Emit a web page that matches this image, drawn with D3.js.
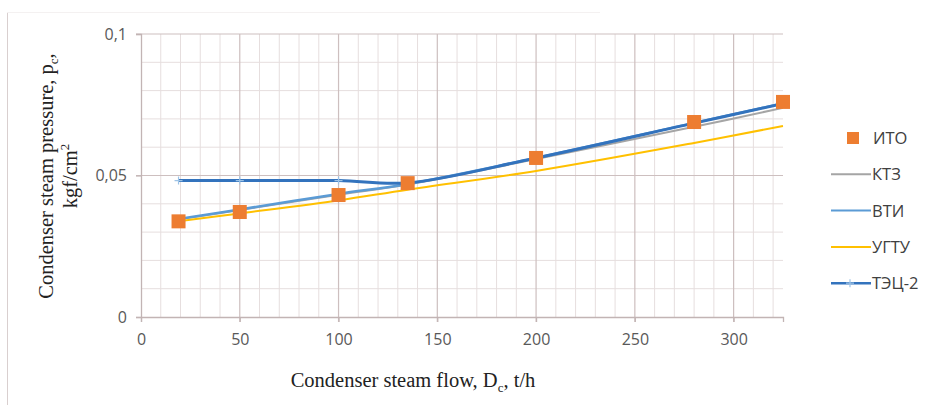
<!DOCTYPE html>
<html>
<head>
<meta charset="utf-8">
<script src="https://cdn.jsdelivr.net/npm/d3@7"></script>
<style>
  body { margin: 0; background: #fff; }
  svg { display: block; }
</style>
</head>
<body>
<div class="d3-container"></div>
<script>
// flow values, t/h
var flow = [19, 50, 100, 135, 200, 280, 325];

// condenser pressure, kgf/cm2
var ito  = [0.0338, 0.0371, 0.0431, 0.0473, 0.0562, 0.0689, 0.0760];
var ktz  = [0.0345, 0.0378, 0.0432, 0.0468, 0.0558, 0.0672, 0.0739];
var vti  = [0.0346, 0.0380, 0.0435, 0.0470, 0.0562, 0.0686, 0.0755];
var ugtu = [0.0338, 0.0366, 0.0412, 0.0450, 0.0516, 0.0615, 0.0675];
var tec2 = [0.0482, 0.0482, 0.0482, 0.0474, 0.0562, 0.0685, 0.0754];

var xTicks = [0, 50, 100, 150, 200, 250, 300];
var yTicks = [0, 0.05, 0.1];

var lineSeries = [
  {name: "КТЗ", values: ktz, color: "#a5a5a5", width: 2},
  {name: "ВТИ", values: vti, color: "#5b9bd5", width: 2.5},
  {name: "УГТУ", values: ugtu, color: "#ffc000", width: 2},
  {name: "ТЭЦ-2", values: tec2, color: "#3373bd", width: 3}
];

const svg = d3.select(".d3-container").append("svg")
  .attr("width", 932)
  .attr("height", 405);

// page frame
svg.append("line")
  .attr("x1", 7.5).attr("x2", 7.5).attr("y1", 12).attr("y2", 405)
  .style("stroke", "#d9cfcf").style("stroke-width", 1);
svg.append("line")
  .attr("x1", 7).attr("x2", 600).attr("y1", 12.5).attr("y2", 12.5)
  .style("stroke", "#f4f1f1").style("stroke-width", 1);

const pLeft = 141, pRight = 783, pTop = 34, pBottom = 317;

const x = d3.scaleLinear().domain([0, 325]).range([pLeft, pRight]);
const y = d3.scaleLinear().domain([0, 0.1]).range([pBottom, pTop]);

// minor grid
const minorX = d3.range(10, 325, 10).filter(v => v % 50 != 0);
const minorY = d3.range(0.01, 0.1, 0.01).filter(v => Math.abs(v - 0.05) > 0.001);

svg.append("g").selectAll("line")
  .data(minorX).enter().append("line")
  .attr("x1", d => x(d)).attr("x2", d => x(d))
  .attr("y1", pTop).attr("y2", pBottom)
  .style("stroke", "#e6dede").style("stroke-width", 1);

svg.append("g").selectAll("line")
  .data(minorY).enter().append("line")
  .attr("x1", pLeft).attr("x2", pRight)
  .attr("y1", d => y(d)).attr("y2", d => y(d))
  .style("stroke", "#e6dede").style("stroke-width", 1);

// major grid
svg.append("g").selectAll("line")
  .data(xTicks.slice(1)).enter().append("line")
  .attr("x1", d => x(d)).attr("x2", d => x(d))
  .attr("y1", pTop).attr("y2", pBottom + 5)
  .style("stroke", "#cdbfbf").style("stroke-width", 1.2);

svg.append("g").selectAll("line")
  .data(yTicks.slice(1)).enter().append("line")
  .attr("x1", pLeft - 5).attr("x2", pRight)
  .attr("y1", d => y(d)).attr("y2", d => y(d))
  .style("stroke", "#cdbfbf").style("stroke-width", 1.2);

// axes
const xAxis = svg.append("g")
  .attr("transform", "translate(0," + pBottom + ")")
  .call(d3.axisBottom(x).tickValues(xTicks).tickSize(5).tickPadding(12).tickFormat(d3.format("d")));
const yAxis = svg.append("g")
  .attr("transform", "translate(" + pLeft + ",0)")
  .call(d3.axisLeft(y).tickValues(yTicks).tickSize(5).tickPadding(9)
    .tickFormat(d => d == 0 ? "0" : String(d).replace("0.", "0,")));

[xAxis, yAxis].forEach(a => {
  a.select(".domain").style("stroke", "#c2b4b4").style("stroke-width", 1.3);
  a.selectAll(".tick line").style("stroke", "#c2b4b4").style("stroke-width", 1.2);
  a.selectAll("text")
    .attr("font-family", "'Open Sans', 'Noto Sans', sans-serif")
    .attr("font-size", "16px")
    .attr("fill", "#595959");
});

// lines
var line = d3.line()
  .x((d, i) => x(flow[i]))
  .y(d => y(d))
  .curve(d3.curveCatmullRom.alpha(0.5));

lineSeries.forEach((s) => {
  svg.append("path")
    .attr("d", line(s.values))
    .style("fill", "none")
    .style("stroke", s.color)
    .style("stroke-width", s.width)
    .style("stroke-linejoin", "round");
});

// ТЭЦ-2 markers
svg.append("g").selectAll("path")
  .data(tec2).enter().append("path")
  .attr("d", (d, i) => {
    var cx = x(flow[i]), cy = y(d);
    return "M" + (cx - 4) + "," + cy + "h8M" + cx + "," + (cy - 4) + "v8";
  })
  .style("stroke", "#9dc3e6").style("stroke-width", 1.2);

// ИТО squares
svg.append("g").selectAll("rect")
  .data(ito).enter().append("rect")
  .attr("x", (d, i) => x(flow[i]) - 7)
  .attr("y", d => y(d) - 7)
  .attr("width", 14).attr("height", 14)
  .style("fill", "#ed7d31");

// legend
const legend = svg.append("g")
  .attr("font-family", "'Open Sans', 'Noto Sans', sans-serif")
  .attr("font-size", "16.5px")
  .attr("fill", "#404040");

const ly0 = 138, lstep = 36.3;
legend.append("rect")
  .attr("x", 847).attr("y", ly0 - 6).attr("width", 12).attr("height", 12)
  .style("fill", "#ed7d31");
legend.append("text").attr("x", 873).attr("y", ly0 + 6).text("ИТО");

lineSeries.forEach((s, i) => {
  var ly = ly0 + lstep * (i + 1);
  legend.append("line")
    .attr("x1", 831).attr("x2", 871).attr("y1", ly).attr("y2", ly)
    .style("stroke", s.color).style("stroke-width", s.width == 3 ? 2.5 : 2);
  if (s.name == "ТЭЦ-2") {
    legend.append("path")
      .attr("d", "M846," + ly + "h8M850," + (ly - 4) + "v8")
      .style("stroke", "#9dc3e6").style("stroke-width", 1.2);
  }
  legend.append("text").attr("x", 872).attr("y", ly + 6).text(s.name);
});

// axis titles
const xTitle = svg.append("text")
  .attr("x", 413).attr("y", 387)
  .attr("text-anchor", "middle")
  .attr("font-family", "'Liberation Serif', 'DejaVu Serif', serif")
  .attr("font-size", "20.5px")
  .attr("fill", "#222");
xTitle.append("tspan").text("Condenser steam flow, D");
xTitle.append("tspan").attr("font-size", "13px").attr("dy", 5).text("c");
xTitle.append("tspan").attr("dy", -5).text(", t/h");

const yTitle = svg.append("text")
  .attr("transform", "translate(53,176) rotate(-90)")
  .attr("text-anchor", "middle")
  .attr("font-family", "'Liberation Serif', 'DejaVu Serif', serif")
  .attr("font-size", "20.5px")
  .attr("fill", "#222");
yTitle.append("tspan").text("Condenser steam pressure, p");
yTitle.append("tspan").attr("font-size", "13px").attr("dy", 5).text("c");
yTitle.append("tspan").attr("dy", -5).text(",");

const yTitle2 = svg.append("text")
  .attr("transform", "translate(77,176) rotate(-90)")
  .attr("text-anchor", "middle")
  .attr("font-family", "'Liberation Serif', 'DejaVu Serif', serif")
  .attr("font-size", "20.5px")
  .attr("fill", "#222");
yTitle2.append("tspan").text("kgf/cm");
yTitle2.append("tspan").attr("font-size", "13px").attr("dy", -8).text("2");
</script>
</body>
</html>
